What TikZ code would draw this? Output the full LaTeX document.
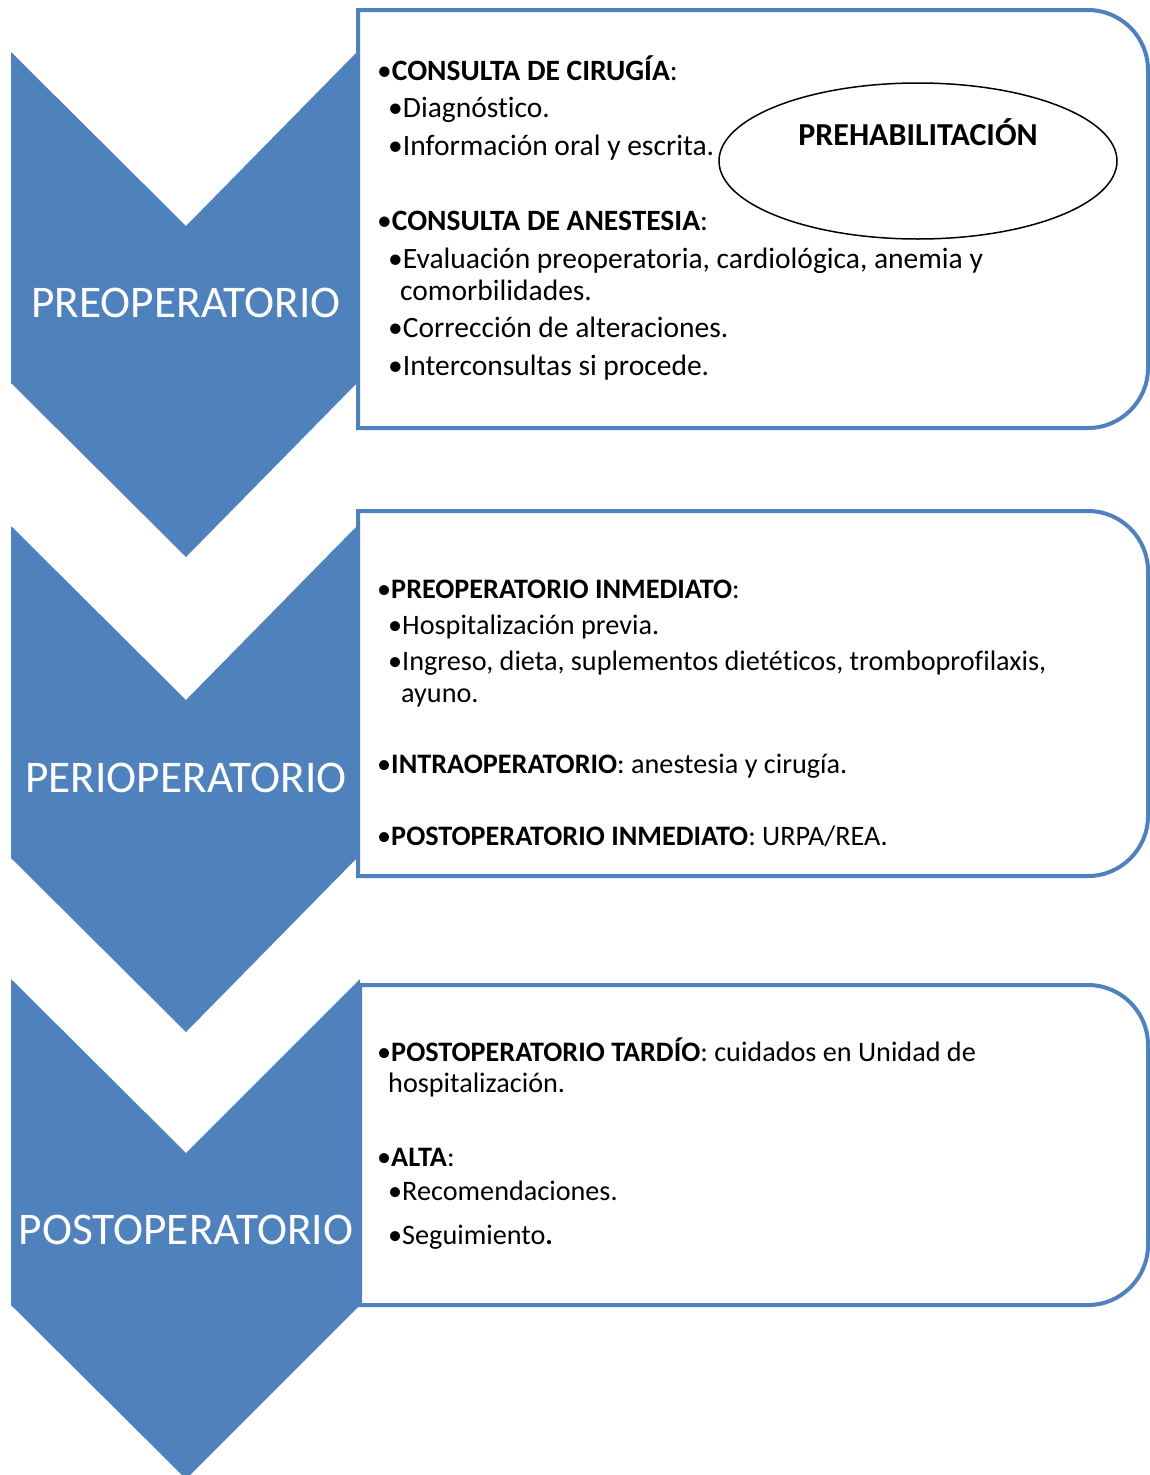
\documentclass[tikz,border=0pt]{standalone}
\usepackage{fontspec}
\setmainfont{Carlito}[Ligatures=NoCommon]
\definecolor{phaseblue}{HTML}{4F81BD}

\begin{document}
\begin{tikzpicture}[
    x=1pt,y=-1pt,
    chevron/.style={fill=phaseblue},
    panel/.style={draw=phaseblue,line width=4pt,fill=white},
    phase/.style={text=white,inner sep=0pt,font=\fontsize{45.3}{54}\selectfont},
    item/.style={anchor=base west,inner sep=0pt,font=\fontsize{#1}{#1}\selectfont},
    item/.default=29.5,
    ring/.style={draw=black,line width=1.5pt}
]
    \useasboundingbox (0,0) rectangle (1150,1475);

    % Chevrons: top, bottom of the straight part, right edge.
    \foreach \top/\bot/\right in {52/383/357,526/858/357,979/1305/360} {
        \fill[chevron] (11,\top) -- (186,\top+174) -- (\right,\top) -- (\right,\bot)
            -- (186,\bot+174) -- (11,\bot) -- cycle;
    }

    % Panels, rounded on the right side only.
    \foreach \top/\bot/\left in {10/428/358,511/876/358,985/1305/360} {
        \draw[panel] (\left,\top) -- (1088,\top)
            .. controls (1121,\top) and (1148,\top+27) .. (1148,\top+60)
            -- (1148,\bot-60)
            .. controls (1148,\bot-27) and (1121,\bot) .. (1088,\bot)
            -- (\left,\bot) -- cycle;
    }

    \node[phase] (preop) at (186,303) {PREOPERATORIO};
    \node[phase] (periop) at (186,778) {PERIOPERATORIO};
    \node[phase] (postop) at (186,1230) {POSTOPERATORIO};

    % Preoperatorio panel.
    \draw[ring] (918,161) ellipse [x radius=199,y radius=78];
    \node[item,anchor=base,font=\bfseries\fontsize{32}{32}\selectfont] (prehab) at (918,145) {PREHABILITACIÓN};
    \node[item] (cirugia) at (377,80) {•\textbf{CONSULTA DE CIRUGÍA}:};
    \node[item] (diag) at (388,117) {•Diagnóstico.};
    \node[item] (info) at (388,155) {•Información oral y escrita.};
    \node[item] (anest) at (377,230) {•\textbf{CONSULTA DE ANESTESIA}:};
    \node[item] (eval) at (388,268) {•Evaluación preoperatoria, cardiológica, anemia y};
    \node[item] (evalb) at (400,300) {comorbilidades.};
    \node[item] (correc) at (388,337) {•Corrección de alteraciones.};
    \node[item] (inter) at (388,375) {•Interconsultas si procede.};

    % Perioperatorio panel.
    \node[item=28.2] (inmed) at (377,598) {•\textbf{PREOPERATORIO INMEDIATO}:};
    \node[item=28.2] (hosp) at (388,634) {•Hospitalización previa.};
    \node[item=28.2] (ingreso) at (388,670) {•Ingreso, dieta, suplementos dietéticos, tromboprofilaxis,};
    \node[item=28.2] (ingresob) at (401,702) {ayuno.};
    \node[item=28.2] (intra) at (377,773) {•\textbf{INTRAOPERATORIO}: anestesia y cirugía.};
    \node[item=28.2] (urpa) at (377,845) {•\textbf{POSTOPERATORIO INMEDIATO}: URPA/REA.};

    % Postoperatorio panel.
    \node[item=28.2] (tardio) at (377,1061) {•\textbf{POSTOPERATORIO TARDÍO}: cuidados en Unidad de};
    \node[item=28.2] (tardiob) at (388,1092) {hospitalización.};
    \node[item=28.2] (alta) at (377,1166) {•\textbf{ALTA}:};
    \node[item=28.2] (recom) at (388,1200) {•Recomendaciones.};
    \node[item=28.2] (segui) at (388,1244) {•Seguimiento\textbf{.}};
\end{tikzpicture}
\end{document}
